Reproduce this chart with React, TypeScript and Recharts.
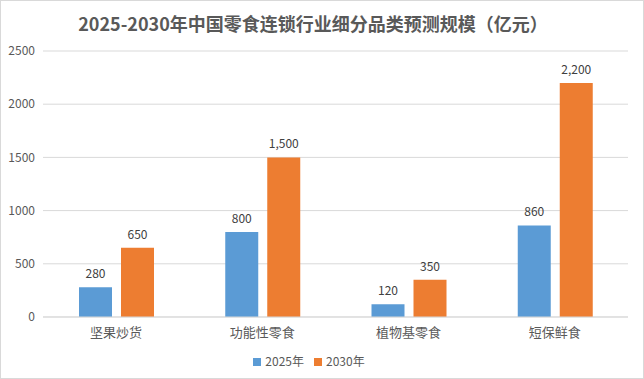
import React from 'react'
import { BarChart, Bar, XAxis, YAxis, CartesianGrid, Legend, LabelList } from 'recharts'

const categories = ['坚果炒货', '功能性零食', '植物基零食', '短保鲜食']
const values2025 = [280, 800, 120, 860]
const values2030 = [650, 1500, 350, 2200]
const yTicks = [0, 500, 1000, 1500, 2000, 2500]

const data = categories.map((name, i) => ({ name, v2025: values2025[i], v2030: values2030[i] }))

const FONT = '"Noto Sans CJK SC", "Noto Sans", sans-serif'
const fmt = (v: number) => v.toLocaleString('en-US')

export default function App() {
  return (
    <div style={{ position: 'fixed', left: 0, top: 0, width: 644, height: 379, background: '#fff', fontFamily: FONT }}>
      <div style={{ position: 'absolute', inset: 0, border: '1px solid #d9d9d9', boxSizing: 'border-box', pointerEvents: 'none' }} />
      <div style={{ position: 'absolute', top: 10, left: 0, width: 626, textAlign: 'center', fontSize: 18, fontWeight: 700, color: '#595959' }}>
        2025-2030年中国零食连锁行业细分品类预测规模（亿元）
      </div>
      <BarChart width={644} height={379} data={data} margin={{ top: 51, right: 16, left: 0, bottom: 8 }} barGap={9}>
        <CartesianGrid vertical={false} stroke="#d9d9d9" />
        <XAxis dataKey="name" axisLine={{ stroke: '#d9d9d9' }} tickLine={false} height={30} tickMargin={5}
          tick={{ fontSize: 13, fill: '#595959', fontFamily: FONT }} />
        <YAxis width={43} domain={[0, 2500]} ticks={yTicks} axisLine={false} tickLine={false}
          tick={{ fontSize: 12, fill: '#595959', fontFamily: FONT }} />
        <Legend verticalAlign="bottom" iconType="square" iconSize={8}
          formatter={(v: string) => <span style={{ color: '#595959', fontSize: 12, fontFamily: FONT }}>{v}</span>} />
        <Bar dataKey="v2025" name="2025年" fill="#5b9bd5" barSize={33} isAnimationActive={false}>
          <LabelList dataKey="v2025" position="top" offset={9} formatter={(v: any) => fmt(Number(v))}
            style={{ fontSize: 12, fill: '#404040', fontFamily: FONT }} />
        </Bar>
        <Bar dataKey="v2030" name="2030年" fill="#ed7d31" barSize={33} isAnimationActive={false}>
          <LabelList dataKey="v2030" position="top" offset={9} formatter={(v: any) => fmt(Number(v))}
            style={{ fontSize: 12, fill: '#404040', fontFamily: FONT }} />
        </Bar>
      </BarChart>
    </div>
  )
}
